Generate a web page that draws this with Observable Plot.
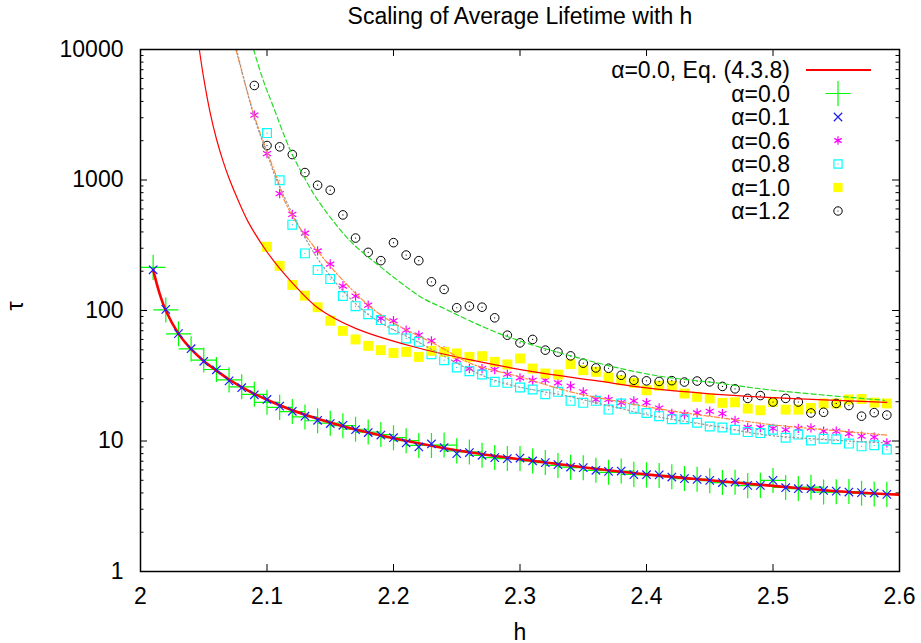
<!DOCTYPE html>
<html>
<head>
<meta charset="utf-8">
<script src="https://cdn.jsdelivr.net/npm/d3@7"></script>
<script src="https://cdn.jsdelivr.net/npm/@observablehq/plot@0.6"></script>
<style>
  html, body { margin: 0; padding: 0; background: #fff; }
  #chart { width: 921px; height: 643px; }
</style>
</head>
<body>
<div id="chart"></div>
<script>
// ---------- data ----------
const hs = [2.01,2.02,2.03,2.04,2.05,2.06,2.07,2.08,2.09,2.10,
            2.11,2.12,2.13,2.14,2.15,2.16,2.17,2.18,2.19,2.20,
            2.21,2.22,2.23,2.24,2.25,2.26,2.27,2.28,2.29,2.30,
            2.31,2.32,2.33,2.34,2.35,2.36,2.37,2.38,2.39,2.40,
            2.41,2.42,2.43,2.44,2.45,2.46,2.47,2.48,2.49,2.50,
            2.51,2.52,2.53,2.54,2.55,2.56,2.57,2.58,2.59];

const tauA00 = [214,101,66.3,50.8,41.7,35.3,29.4,26,22.8,19.8,
                18.1,16.8,15.3,14.3,13.7,13.1,12.3,11.7,11.2,10.6,
                10.05,9.25,9.25,9.3,8.4,8.25,7.77,7.46,7.33,7.33,
                7.03,6.83,6.5,6.3,6.25,5.96,5.75,5.88,5.55,5.5,
                5.45,5.33,5.15,5.1,4.96,4.8,4.82,4.55,4.57,4.99,
                4.41,4.32,4.43,4.06,4.08,4.1,3.98,3.93,3.9];

const tauA01 = [205,102,66.5,51,40.8,35.1,28.9,25.6,22.6,20.8,
                18.5,16.9,15.5,14.4,13.6,13.2,12.2,11.6,11.1,10.6,
                9.66,9.0,9.5,8.9,8.0,8.15,7.77,7.46,7.33,7.4,
                7.03,6.83,6.59,6.31,6.25,5.96,5.85,5.88,5.52,5.52,
                5.5,5.29,5.15,5.08,4.99,4.80,4.85,4.57,4.57,4.99,
                4.39,4.31,4.31,4.18,4.13,4.06,4.02,3.99,3.90];

const tauA06 = [null,null,null,null,null,null,null,null,3142,1594,
                786,545,391,286,227,154,129,110,86.9,83.4,
                70.7,64.7,58.5,49.1,42.2,35.9,35.9,35.3,32.5,30.5,
                29.2,29.2,27.9,26.4,23.8,20.8,20.8,19.7,20.3,19.7,
                17.9,16.3,16.0,16.4,16.9,16.2,14.4,12.7,12.7,12.5,
                12.2,12.5,12.6,11.9,11.9,11.4,10.9,10.7,9.66];

const tauA08 = [null,null,null,null,null,null,null,null,null,2288,
                996,455,274,204,174,129,108,93.8,84.4,71.6,
                61.1,57.5,46.3,41.6,36.6,34.3,32.3,28.4,27.9,25.7,
                24.8,22.8,23.8,20.3,19.6,20.3,17.4,19.4,17.7,16.4,
                15.5,14.7,14.7,13.8,12.9,12.7,12.2,11.7,11.5,12.2,
                10.6,11.2,10.1,10.4,10.3,9.55,9.1,9.27,8.59];

const tauA10 = [null,null,null,null,null,null,null,null,null,308,
                220,157,130,106,83.4,69.8,60,53.6,49.7,47.3,
                48.2,44.1,49.1,48.2,46.9,44.1,44.7,40.4,38.6,42.9,
                35.9,32.9,32.3,38.8,34.9,33.9,30.7,29.2,27.9,24.5,
                26.5,26.5,23.1,21.8,21.2,19.6,19.8,17.7,17.2,19.9,
                17.4,17.4,17.9,19.4,19.4,20.8,21.0,19.7,19.4];

const tauA12 = [null,null,null,null,null,null,null,null,5300,1837,
                1795,1567,1140,912,835,540,359,279,241,331,
                266,241,166,145,105,108,106,87.9,64.7,56.5,
                60,49.7,48,44.9,39.5,36.3,36.1,31.9,29.2,28.9,
                28.6,29.0,28.3,28.8,28.4,26.2,25.1,21.2,22.3,19.9,
                21.2,19.9,16.4,16.6,19.4,18.7,15.5,16.5,15.8];

// Eq. (4.3.8) curve for alpha = 0.0
const eqH   = [2.01,2.015,2.02,2.03,2.04,2.05,2.06,2.07,2.08,2.09,2.10,2.12,2.14,2.16,2.18,2.20,2.23,2.26,2.30,2.35,2.40,2.45,2.50,2.55,2.60];
const eqTau = [205,136,100,66.5,50.5,41,34.6,29.6,25.9,23,20.7,17.2,14.8,13.0,11.6,10.5,9.2,8.2,7.25,6.3,5.55,5.0,4.53,4.12,3.88];

// unlabeled fit curves
const fitRedH   = [2.0465,2.05,2.055,2.06,2.065,2.07,2.077,2.085,2.098,2.11,2.12,2.14,2.17,2.215,2.26,2.31,2.36,2.40,2.45,2.50,2.55,2.59];
const fitRedTau = [10000,6000,3300,2070,1420,1030,705,480,300,210,163,105,73,53,42,34,29,25.5,23,21.5,20.5,19.8];

const fitGreenH   = [2.0894,2.0965,2.1044,2.1189,2.132,2.14,2.165,2.19,2.2216,2.237,2.287,2.353,2.406,2.459,2.495,2.588];
const fitGreenTau = [10000,6000,3770,1652,945,704,347,215,127,107,64.7,41.6,31.9,27.6,24.8,20.5];

const fitOrangeH   = [2.0754,2.0899,2.1005,2.1089,2.1136,2.129,2.1847,2.237,2.261,2.30,2.34,2.38,2.42,2.46,2.50,2.55,2.59];
const fitOrangeTau = [10000,3120,1607,972,704,391,101,52.6,39.3,31,23.8,19.9,17.0,15.0,13.3,12.0,11.1];

const fitGreyH   = [2.076,2.09,2.1005,2.109,2.1426,2.179,2.2216,2.28,2.34,2.38,2.403,2.458,2.495,2.59];
const fitGreyTau = [10000,3000,1550,930,230,95,55.9,29.2,21.8,17.7,15.7,12.8,11.1,9.66];

// axes
const xTicks = [2, 2.1, 2.2, 2.3, 2.4, 2.5, 2.6];
const xTickLabels = ["2", "2.1", "2.2", "2.3", "2.4", "2.5", "2.6"];
const yTicks = [1, 10, 100, 1000, 10000];
const yTickLabels = ["1", "10", "100", "1000", "10000"];
const yMinor = [2,3,4,5,6,7,8,9,20,30,40,50,60,70,80,90,200,300,400,500,600,700,800,900,2000,3000,4000,5000,6000,7000,8000,9000];

const legendLabels = ["α=0.0, Eq. (4.3.8)", "α=0.0", "α=0.1", "α=0.6", "α=0.8", "α=1.0", "α=1.2"];

// ---------- build tables ----------
const series = (vals) => hs.map((h, i) => ({h, v: vals[i]})).filter(d => d.v != null);
const curve = (H, T) => H.map((h, i) => ({h, v: T[i]}));

const W = 921, H = 643;
const mL = 140, mR = 22, mT = 49, mB = 72;
const pw = W - mL - mR, ph = H - mT - mB;
const font = "'Liberation Sans', Arial, Helvetica, sans-serif";

const chart = Plot.plot({
  width: W, height: H,
  marginLeft: mL, marginRight: mR, marginTop: mT, marginBottom: mB,
  style: {fontFamily: font, fontSize: "23px", background: "white", color: "black"},
  x: {domain: [2, 2.6]},
  y: {type: "log", domain: [1, 10000]},
  marks: [
    // tick marks (inward, mirrored)
    Plot.tickY(yTicks, {y: d => d, stroke: "black", strokeWidth: 1, insetRight: pw - 7}),
    Plot.tickY(yTicks, {y: d => d, stroke: "black", strokeWidth: 1, insetLeft: pw - 7}),
    Plot.tickY(yMinor, {y: d => d, stroke: "black", strokeWidth: 1, insetRight: pw - 3.5}),
    Plot.tickY(yMinor, {y: d => d, stroke: "black", strokeWidth: 1, insetLeft: pw - 3.5}),
    Plot.tickX(xTicks, {x: d => d, stroke: "black", strokeWidth: 1, insetTop: ph - 7}),
    Plot.tickX(xTicks, {x: d => d, stroke: "black", strokeWidth: 1, insetBottom: ph - 7}),
    Plot.axisX({ticks: xTicks, tickSize: 0, tickPadding: 16, tickFormat: d => xTickLabels[xTicks.indexOf(d)], label: null, fontSize: 23}),
    Plot.axisY({ticks: yTicks, tickSize: 0, tickPadding: 17, tickFormat: d => yTickLabels[yTicks.indexOf(d)] ?? String(d), label: null, fontSize: 23}),

    // data points
    Plot.dot(series(tauA00), {x: "h", y: "v", symbol: "plus", r: 8.1, stroke: "#00ff00", fill: "none", strokeWidth: 1.2}),
    Plot.dot(series(tauA06), {x: "h", y: "v", symbol: "asterisk", r: 4.4, stroke: "#ff00ff", fill: "none", strokeWidth: 1.2}),
    Plot.dot(series(tauA08), {x: "h", y: "v", symbol: "square2", r: 5.6, stroke: "#00ffff", fill: "none", strokeWidth: 1.2}),
    Plot.dot(series(tauA08), {x: "h", y: "v", r: 0.6, fill: "#00cccc", stroke: "none"}),
    Plot.dot(series(tauA10), {x: "h", y: "v", symbol: "square", r: 5.6, fill: "#ffff00", stroke: "none"}),
    Plot.dot(series(tauA12), {x: "h", y: "v", symbol: "circle", r: 4.3, stroke: "black", fill: "none", strokeWidth: 1}),
    Plot.dot(series(tauA12), {x: "h", y: "v", r: 0.6, fill: "black", stroke: "none"}),

    // curves
    Plot.line(curve(fitRedH, fitRedTau), {x: "h", y: "v", stroke: "#ff0000", strokeWidth: 1.2, curve: "catmull-rom", clip: true}),
    Plot.line(curve(fitGreenH, fitGreenTau), {x: "h", y: "v", stroke: "#22dd22", strokeWidth: 1.2, strokeDasharray: "5,3", curve: "catmull-rom", clip: true}),
    Plot.line(curve(fitOrangeH, fitOrangeTau), {x: "h", y: "v", stroke: "#ff8a3a", strokeWidth: 1.2, strokeDasharray: "5,2,1.5,2", curve: "catmull-rom", clip: true}),
    Plot.line(curve(fitGreyH, fitGreyTau), {x: "h", y: "v", stroke: "#999999", strokeWidth: 1.2, strokeDasharray: "1.5,2.5", curve: "catmull-rom", clip: true}),
    Plot.line(curve(eqH, eqTau), {x: "h", y: "v", stroke: "#ff0000", strokeWidth: 2.6, curve: "catmull-rom", clip: true}),

    Plot.dot(series(tauA01), {x: "h", y: "v", symbol: "times", r: 3.9, stroke: "#1a1aff", fill: "none", strokeWidth: 1.2}),

    Plot.frame({stroke: "black", strokeWidth: 1.5}),

    // titles
    Plot.text(["Scaling of Average Lifetime with h"], {frameAnchor: "top", dy: -42, fontSize: 23, fill: "black"}),
    Plot.text(["h"], {frameAnchor: "bottom", dy: 68, fontSize: 23, fill: "black"}),
    Plot.text(["τ"], {frameAnchor: "left", dx: -125, rotate: -90, fontSize: 23, fill: "black"})
  ]
});

document.getElementById("chart").appendChild(chart);

// ---------- key (layout only) ----------
const svg = d3.select(chart);
const g = svg.append("g").attr("font-family", font).attr("font-size", 23);
const rowY0 = 70, rowDy = 23.5, textRight = 790, symX = 838;
legendLabels.forEach((lab, i) => {
  const y = rowY0 + i * rowDy;
  g.append("text").attr("x", textRight).attr("y", y).attr("dy", "0.35em")
    .attr("text-anchor", "end").attr("fill", "black").text(lab);
});
const sym = (type, r) => d3.symbol(type, Math.PI * r * r)();
g.append("line").attr("x1", 806).attr("x2", 871).attr("y1", rowY0).attr("y2", rowY0)
  .attr("stroke", "#ff0000").attr("stroke-width", 2);
g.append("path").attr("d", sym(d3.symbolPlus, 8.1)).attr("transform", `translate(${symX},${rowY0 + rowDy})`)
  .attr("stroke", "#00ff00").attr("fill", "none").attr("stroke-width", 1.2);
g.append("path").attr("d", sym(d3.symbolTimes, 3.9)).attr("transform", `translate(${symX},${rowY0 + 2 * rowDy})`)
  .attr("stroke", "#1a1aff").attr("fill", "none").attr("stroke-width", 1.2);
g.append("path").attr("d", sym(d3.symbolAsterisk, 4.0)).attr("transform", `translate(${symX},${rowY0 + 3 * rowDy})`)
  .attr("stroke", "#ff00ff").attr("fill", "none").attr("stroke-width", 1.2);
g.append("path").attr("d", sym(d3.symbolSquare2, 5.2)).attr("transform", `translate(${symX},${rowY0 + 4 * rowDy})`)
  .attr("stroke", "#00ffff").attr("fill", "none").attr("stroke-width", 1.2);
g.append("circle").attr("cx", symX).attr("cy", rowY0 + 4 * rowDy).attr("r", 0.6).attr("fill", "#00cccc");
g.append("path").attr("d", sym(d3.symbolSquare, 5.2)).attr("transform", `translate(${symX},${rowY0 + 5 * rowDy})`)
  .attr("fill", "#ffff00");
g.append("circle").attr("cx", symX).attr("cy", rowY0 + 6 * rowDy).attr("r", 4.2)
  .attr("stroke", "black").attr("fill", "none").attr("stroke-width", 1);
g.append("circle").attr("cx", symX).attr("cy", rowY0 + 6 * rowDy).attr("r", 0.6).attr("fill", "black");
</script>
</body>
</html>
